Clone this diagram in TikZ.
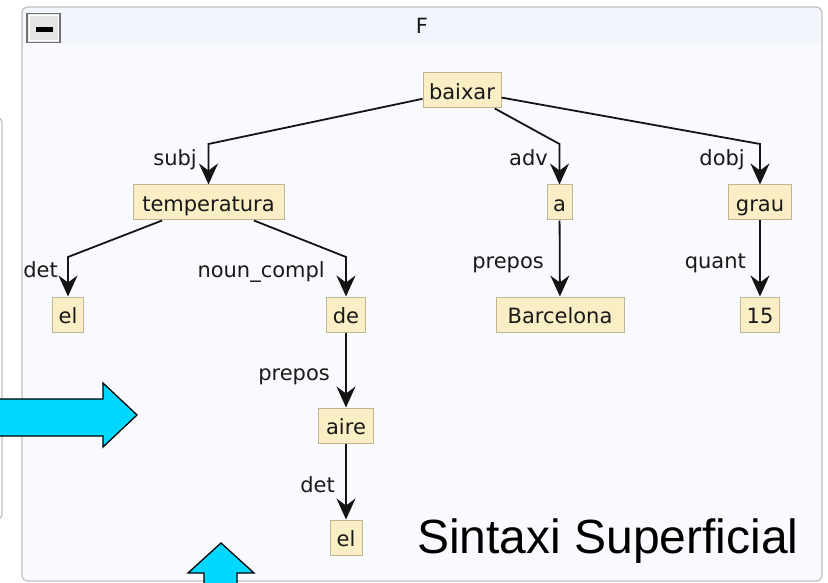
\documentclass[tikz,border=0pt]{standalone}
\usepackage{fontspec}
\setmainfont{DejaVu Sans}
\newfontfamily\arialfont{Liberation Sans}
\usetikzlibrary{arrows.meta}
\definecolor{nodefill}{RGB}{250,238,196}
\definecolor{nodeline}{RGB}{190,182,150}
\definecolor{panelbg}{RGB}{248,250,253}
\definecolor{headbg}{RGB}{242,245,251}
\definecolor{panelline}{RGB}{192,192,196}
\definecolor{cyanarrow}{RGB}{0,216,255}
\definecolor{txt}{RGB}{25,25,25}
\tikzset{
  wbox/.style={draw=nodeline, fill=nodefill, line width=1pt, minimum height=35pt,
    text height=20pt, text depth=2pt,
    inner xsep=6pt, inner ysep=0pt, font=\fontsize{21}{25}\selectfont, text=txt},
  dep/.style={draw=black!92, line width=1.8pt, -{Stealth[length=21pt,width=19pt,inset=7pt]}},
  lab/.style={anchor=base east, inner sep=0pt, font=\fontsize{21}{25}\selectfont, text=txt},
  bigarrow/.style={draw=black, line width=1.3pt, fill=cyanarrow, line join=miter},
}
\begin{document}
\begin{tikzpicture}[x=1pt,y=-1pt]
\useasboundingbox (0,0) rectangle (828,583);
\clip (0,0) rectangle (828,583);
\fill[white] (0,0) rectangle (828,583);
% left partial panel
\draw[panelline, line width=1.2pt, rounded corners=6pt] (-20,117) -- (2,117) -- (2,520) -- (-20,520);
% main panel
\fill[panelbg, rounded corners=6pt] (22,7) rectangle (822,581);
\begin{scope}
  \clip[rounded corners=6pt] (22,7) rectangle (822,581);
  \fill[headbg] (22,7) rectangle (822,43);
\end{scope}
\draw[panelline, line width=1.2pt, rounded corners=6pt] (22,7) rectangle (822,581);
% minus button
\node[draw=black!55, fill=black!10, line width=1.3pt, minimum width=33pt, minimum height=29pt, inner sep=0pt] (minus) at (43.5,28) {};
\draw[white, line width=1pt] (29.5,15.5) rectangle (58,41);
\fill[black] (36,27) rectangle (53,32);
\node[font=\fontsize{21}{25}\selectfont, text=txt, inner sep=0pt] (title) at (422,25.5) {F};
% big cyan arrows
\draw[bigarrow] (-10,399) -- (103,399) -- (103,383) -- (137,415) -- (103,447) -- (103,436) -- (-10,436) -- cycle;
\draw[bigarrow] (204,600) -- (204,573) -- (188,573) -- (221,543) -- (254,573) -- (237,573) -- (237,600) -- cycle;
% nodes
\node[wbox, minimum width=78pt] (baixar) at (462,90.5) {baixar};
\node[wbox, minimum width=151pt] (temperatura) at (208.5,202.5) {temperatura};
\node[wbox, minimum width=25pt] (a) at (559.5,202.5) {a};
\node[wbox, minimum width=63pt] (grau) at (760,202.5) {grau};
\node[wbox, minimum width=30pt] (el1) at (68,314.5) {el};
\node[wbox, minimum width=38pt] (de) at (346,314.5) {de};
\node[wbox, minimum width=128pt] (barcelona) at (560,314.5) {Barcelona};
\node[wbox, minimum width=39pt] (n15) at (760,314.5) {15};
\node[wbox, minimum width=55pt] (aire) at (346,425.5) {aire};
\node[wbox, minimum width=32pt] (el2) at (346,537.5) {el};
% bend points
\coordinate (b1) at (208.5,144);
\coordinate (b2) at (559.5,144);
\coordinate (b3) at (760,144);
\coordinate (b4) at (68,257);
\coordinate (b5) at (346,257);
% edges
\draw[dep] (baixar) -- (b1) -- (temperatura);
\draw[dep] (baixar) -- (b2) -- (a);
\draw[dep] (baixar) -- (b3) -- (grau);
\draw[dep] (temperatura) -- (b4) -- (el1);
\draw[dep] (temperatura) -- (b5) -- (de);
\draw[dep] (de) -- (aire);
\draw[dep] (aire) -- (el2);
\draw[dep] (a) -- (barcelona);
\draw[dep] (grau) -- (n15);
% labels
\node[lab] (l1) at (197,166) {subj};
\node[lab] (l2) at (548,166) {adv};
\node[lab] (l3) at (745,166) {dobj};
\node[lab] (l4) at (58,277) {det};
\node[lab] (l5) at (325,277) {noun\_compl};
\node[lab] (l6) at (330,380) {prepos};
\node[lab] (l7) at (544,268) {prepos};
\node[lab] (l8) at (746,268) {quant};
\node[lab] (l9) at (335,492) {det};
% caption
\node[anchor=base west, inner sep=0pt, font=\arialfont\fontsize{48}{56}\selectfont, text=black] (caption) at (417,553) {Sintaxi Superficial};
\end{tikzpicture}
\end{document}
